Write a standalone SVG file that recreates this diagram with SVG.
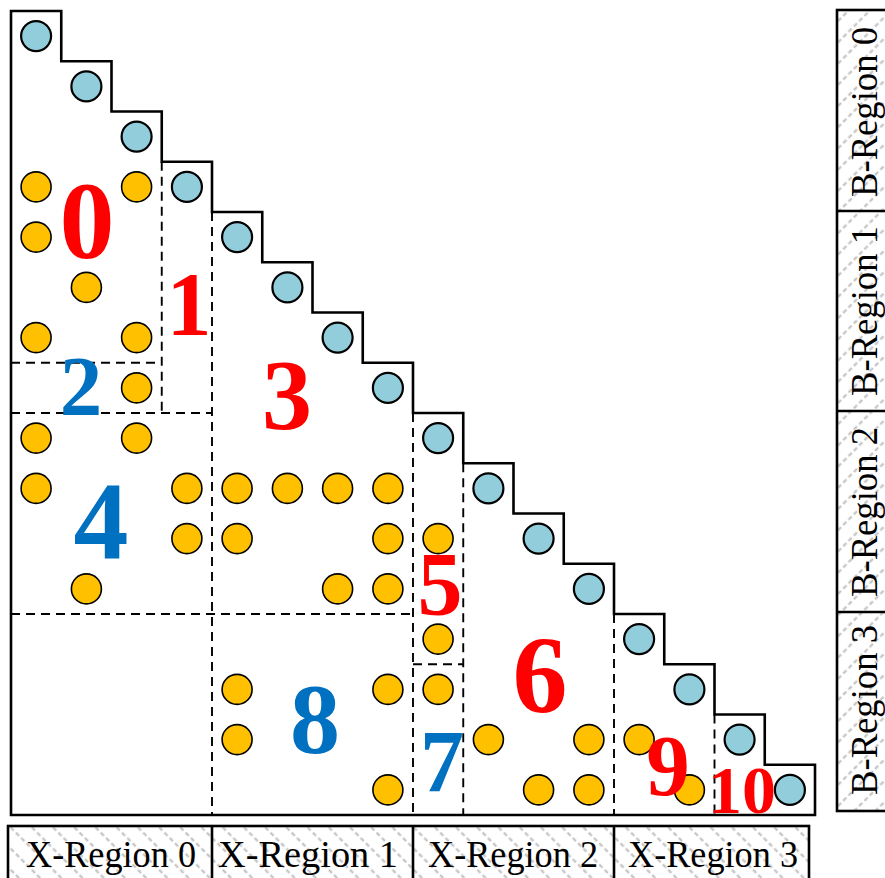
<svg xmlns="http://www.w3.org/2000/svg" width="885" height="878" viewBox="0 0 885 878">
<style>
.outline{fill:#fff;stroke:#000;stroke-width:2.6;stroke-linejoin:miter}
.dash{stroke:#000;stroke-width:1.9;stroke-dasharray:9 6;fill:none}
.b{fill:#92CDDC;stroke:#000;stroke-width:2.2}
.y{fill:#FFC000;stroke:#000;stroke-width:1.6}
.num{font-family:"Liberation Serif","Times New Roman",serif;font-weight:bold;text-anchor:middle}
.r{fill:#FF0000}
.bl{fill:#0070C0}
.lbl{font-family:"Liberation Serif","Times New Roman",serif;font-size:37px;fill:#000;text-anchor:middle}
.box{stroke:#000;stroke-width:2.6}
</style>
<defs>
<pattern id="hatchX" patternUnits="userSpaceOnUse" width="15" height="15" patternTransform="rotate(45)">
<rect width="15" height="15" fill="#fff"/>
<line x1="0" y1="7.5" x2="15" y2="7.5" stroke="#bdbdbd" stroke-width="2" stroke-dasharray="4.5 3"/>
</pattern>
<pattern id="hatchB" patternUnits="userSpaceOnUse" width="15" height="15" patternTransform="rotate(-45)">
<rect width="15" height="15" fill="#fff"/>
<line x1="0" y1="7.5" x2="15" y2="7.5" stroke="#bdbdbd" stroke-width="2" stroke-dasharray="4.5 3"/>
</pattern>
</defs>

<g id="matrix">
<path class="outline" d="M11,11 H61.25 V61.25 H111.5 V111.5 H161.75 V161.75 H212 V212 H262.25 V262.25 H312.5 V312.5 H362.75 V362.75 H413 V413 H463.25 V463.25 H513.5 V513.5 H563.75 V563.75 H614 V614 H664.25 V664.25 H714.5 V714.5 H764.75 V764.75 H815 V815 H11 Z"/>
</g>

<g id="connectors">
<line class="dash" x1="161.75" y1="161.75" x2="161.75" y2="413"/>
<line class="dash" x1="11" y1="362.75" x2="161.75" y2="362.75"/>
<line class="dash" x1="11" y1="413" x2="212" y2="413"/>
<line class="dash" x1="212" y1="212" x2="212" y2="815"/>
<line class="dash" x1="11" y1="614" x2="413" y2="614"/>
<line class="dash" x1="413" y1="413" x2="413" y2="815"/>
<line class="dash" x1="463.25" y1="463.25" x2="463.25" y2="815"/>
<line class="dash" x1="413" y1="664.25" x2="463.25" y2="664.25"/>
<line class="dash" x1="614" y1="614" x2="614" y2="815"/>
<line class="dash" x1="714.5" y1="714.5" x2="714.5" y2="815"/>
</g>

<g id="diagonal">
<circle class="b" cx="36.1" cy="36.1" r="15"/>
<circle class="b" cx="86.4" cy="86.4" r="15"/>
<circle class="b" cx="136.6" cy="136.6" r="15"/>
<circle class="b" cx="186.9" cy="186.9" r="15"/>
<circle class="b" cx="237.1" cy="237.1" r="15"/>
<circle class="b" cx="287.4" cy="287.4" r="15"/>
<circle class="b" cx="337.6" cy="337.6" r="15"/>
<circle class="b" cx="387.9" cy="387.9" r="15"/>
<circle class="b" cx="438.1" cy="438.1" r="15"/>
<circle class="b" cx="488.4" cy="488.4" r="15"/>
<circle class="b" cx="538.6" cy="538.6" r="15"/>
<circle class="b" cx="588.9" cy="588.9" r="15"/>
<circle class="b" cx="639.1" cy="639.1" r="15"/>
<circle class="b" cx="689.4" cy="689.4" r="15"/>
<circle class="b" cx="739.6" cy="739.6" r="15"/>
<circle class="b" cx="789.9" cy="789.9" r="15"/>
</g>

<g id="nonzeros">
<circle class="y" cx="36.1" cy="186.9" r="15"/>
<circle class="y" cx="136.6" cy="186.9" r="15"/>
<circle class="y" cx="36.1" cy="237.1" r="15"/>
<circle class="y" cx="86.4" cy="287.4" r="15"/>
<circle class="y" cx="36.1" cy="337.6" r="15"/>
<circle class="y" cx="136.6" cy="337.6" r="15"/>
<circle class="y" cx="136.6" cy="387.9" r="15"/>
<circle class="y" cx="36.1" cy="438.1" r="15"/>
<circle class="y" cx="136.6" cy="438.1" r="15"/>
<circle class="y" cx="36.1" cy="488.4" r="15"/>
<circle class="y" cx="186.9" cy="488.4" r="15"/>
<circle class="y" cx="237.1" cy="488.4" r="15"/>
<circle class="y" cx="287.4" cy="488.4" r="15"/>
<circle class="y" cx="337.6" cy="488.4" r="15"/>
<circle class="y" cx="387.9" cy="488.4" r="15"/>
<circle class="y" cx="186.9" cy="538.6" r="15"/>
<circle class="y" cx="237.1" cy="538.6" r="15"/>
<circle class="y" cx="387.9" cy="538.6" r="15"/>
<circle class="y" cx="438.1" cy="538.6" r="15"/>
<circle class="y" cx="86.4" cy="588.9" r="15"/>
<circle class="y" cx="337.6" cy="588.9" r="15"/>
<circle class="y" cx="387.9" cy="588.9" r="15"/>
<circle class="y" cx="438.1" cy="639.1" r="15"/>
<circle class="y" cx="237.1" cy="689.4" r="15"/>
<circle class="y" cx="387.9" cy="689.4" r="15"/>
<circle class="y" cx="438.1" cy="689.4" r="15"/>
<circle class="y" cx="237.1" cy="739.6" r="15"/>
<circle class="y" cx="488.4" cy="739.6" r="15"/>
<circle class="y" cx="588.9" cy="739.6" r="15"/>
<circle class="y" cx="639.1" cy="739.6" r="15"/>
<circle class="y" cx="387.9" cy="789.9" r="15"/>
<circle class="y" cx="538.6" cy="789.9" r="15"/>
<circle class="y" cx="588.9" cy="789.9" r="15"/>
<circle class="y" cx="689.4" cy="789.9" r="15"/>
</g>

<g id="region-labels">
<text id="r0" class="num r" x="87" y="258" font-size="110">0</text>
<text id="r1" class="num r" x="189" y="335" font-size="90">1</text>
<text id="r2" class="num bl" x="81" y="415" font-size="85">2</text>
<text id="r3" class="num r" x="287" y="428" font-size="100">3</text>
<text id="r4" class="num bl" x="101" y="558" font-size="110">4</text>
<text id="r5" class="num r" x="440" y="615" font-size="90">5</text>
<text id="r6" class="num r" x="540" y="712" font-size="110">6</text>
<text id="r7" class="num bl" x="442" y="791" font-size="88">7</text>
<text id="r8" class="num bl" x="315" y="752" font-size="100">8</text>
<text id="r9" class="num r" x="668" y="795" font-size="87">9</text>
<text id="r10" class="num r" x="742" y="813" font-size="68">10</text>
</g>

<g id="x-regions">
<rect x="8" y="826" width="801" height="60" fill="url(#hatchX)" class="box"/>
<line class="box" x1="212" y1="826" x2="212" y2="878"/>
<line class="box" x1="413" y1="826" x2="413" y2="878"/>
<line class="box" x1="614" y1="826" x2="614" y2="878"/>
<text class="lbl" x="111" y="867" textLength="170" lengthAdjust="spacingAndGlyphs">X-Region 0</text>
<text class="lbl" x="308" y="867" textLength="180" lengthAdjust="spacingAndGlyphs">X-Region 1</text>
<text class="lbl" x="513" y="867" textLength="170" lengthAdjust="spacingAndGlyphs">X-Region 2</text>
<text class="lbl" x="713" y="867" textLength="170" lengthAdjust="spacingAndGlyphs">X-Region 3</text>
</g>

<g id="b-regions">
<rect x="837" y="10" width="60" height="801" fill="url(#hatchB)" class="box"/>
<line class="box" x1="837" y1="211" x2="885" y2="211"/>
<line class="box" x1="837" y1="411" x2="885" y2="411"/>
<line class="box" x1="837" y1="612" x2="885" y2="612"/>
<text class="lbl" transform="translate(877,112) rotate(-90)" x="0" y="0" textLength="170" lengthAdjust="spacingAndGlyphs">B-Region 0</text>
<text class="lbl" transform="translate(877,311) rotate(-90)" x="0" y="0" textLength="170" lengthAdjust="spacingAndGlyphs">B-Region 1</text>
<text class="lbl" transform="translate(877,512) rotate(-90)" x="0" y="0" textLength="170" lengthAdjust="spacingAndGlyphs">B-Region 2</text>
<text class="lbl" transform="translate(877,710) rotate(-90)" x="0" y="0" textLength="170" lengthAdjust="spacingAndGlyphs">B-Region 3</text>
</g>
</svg>
